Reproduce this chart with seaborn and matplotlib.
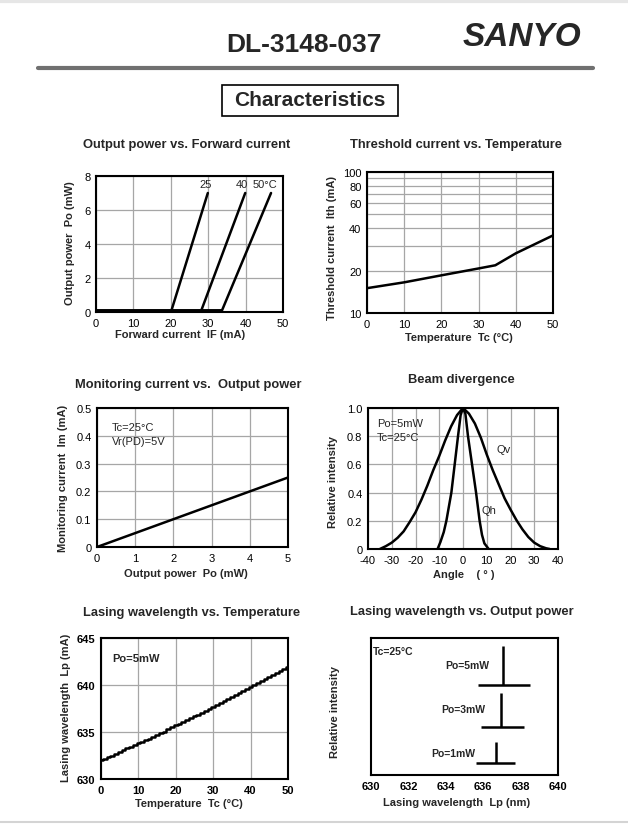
import matplotlib
matplotlib.use("Agg")
import matplotlib.pyplot as plt
import seaborn as sns
from matplotlib.patches import Rectangle
from matplotlib.lines import Line2D

# ---- data ----
# Output power vs. forward current (three case temperatures)
if_25 = [0, 20.1, 29.9]
po_25 = [0.04, 0.04, 7.0]
if_40 = [0, 28.1, 39.9]
po_40 = [0.06, 0.06, 7.0]
if_50 = [0, 33.7, 46.8]
po_50 = [0.10, 0.10, 7.0]
temp_labels = ["25", "40", "50°C"]
temp_label_if = [29.4, 38.9, 45.3]

# Threshold current vs. temperature
tc_th = [0, 10, 20, 30, 34.5, 40, 50]
ith = [15.0, 16.5, 18.5, 20.7, 21.8, 26.5, 35.5]

# Monitoring current vs. output power
po_mon = [0, 5]
im_mon = [0, 0.25]

# Beam divergence
qv_angle = [-35, -32.5, -30, -27.5, -25, -22.5, -20, -17.5, -15, -12.5, -10, -7.5,
            -5, -2.5, 0, 2.5, 5, 7.5, 10, 12.5, 15, 17.5, 20, 22.5, 25, 27.5, 30,
            32.5, 35, 36.5]
qv_int = [0.0, 0.02, 0.045, 0.08, 0.125, 0.19, 0.26, 0.35, 0.45, 0.56, 0.66, 0.77,
          0.87, 0.95, 1.0, 0.96, 0.89, 0.79, 0.67, 0.56, 0.46, 0.36, 0.28, 0.205,
          0.14, 0.085, 0.045, 0.02, 0.005, 0.0]
qh_angle = [-10.7, -9.5, -8.1, -7.0, -4.9, -3.5, -2.1, -1.0, 0, 1.0, 2.1, 3.8, 5.5,
            7.0, 8.0, 9.0, 10.8]
qh_int = [0.0, 0.05, 0.12, 0.2, 0.4, 0.6, 0.8, 0.95, 1.0, 0.96, 0.8, 0.6, 0.4,
          0.2, 0.1, 0.04, 0.0]

# Lasing wavelength vs. temperature
tc_wl = list(range(0, 51))
lp_wl = [632.0, 632.15, 632.35, 632.5, 632.7, 632.85, 633.05, 633.25, 633.4, 633.6,
         633.8, 633.95, 634.15, 634.3, 634.5, 634.7, 634.85, 635.05, 635.3, 635.5,
         635.7, 635.9, 636.1, 636.25, 636.45, 636.65, 636.85, 637.05, 637.25, 637.5,
         637.7, 637.9, 638.1, 638.3, 638.5, 638.7, 638.9, 639.1, 639.35, 639.55,
         639.75, 639.95, 640.2, 640.4, 640.6, 640.85, 641.05, 641.3, 641.5, 641.7,
         641.95]

# Lasing wavelength vs. output power (spectra)
spec_labels = ["Po=1mW", "Po=3mW", "Po=5mW"]
spec_peak = [636.68, 636.93, 637.06]
spec_left = [635.63, 635.88, 635.70]
spec_right = [637.68, 638.16, 638.50]
spec_base = [0.09, 0.35, 0.66]
spec_top = [0.24, 0.60, 0.94]
spec_label_x = [635.6, 636.1, 636.3]
spec_label_y = [0.16, 0.48, 0.80]

# ---- figure ----
sns.set_theme(style="white")
plt.rcParams["font.family"] = ["Liberation Sans", "DejaVu Sans"]
plt.rcParams["axes.unicode_minus"] = False

W, H = 628, 828
fig = plt.figure(figsize=(W / 100, H / 100), dpi=100)
fig.patch.set_facecolor("white")


def add_ax(box):
    l, t, r, b = box
    return fig.add_axes([l / W, 1 - b / H, (r - l) / W, (b - t) / H])


def style(ax, grid=True):
    for s in ax.spines.values():
        s.set_visible(True)
        s.set_linewidth(1.5)
        s.set_color("black")
    ax.tick_params(length=0, labelsize=8, pad=4, colors="black")
    ax.set_facecolor("white")
    if grid:
        ax.grid(True, color="#a6a6a6", lw=0.9)
    else:
        ax.grid(False)
    ax.set_axisbelow(True)


def labels(ax, box, title, tpos, xlabel, xpos, ylabel, ypos):
    l, t, r, b = box
    fig.text(tpos[0] / W, 1 - tpos[1] / H, title, ha="center", va="center",
             fontsize=9.3, fontweight="bold")
    ax.set_xlabel(xlabel, fontsize=8, fontweight="bold")
    ax.xaxis.set_label_coords((xpos[0] - l) / (r - l), (b - xpos[1]) / (b - t))
    ax.xaxis.label.set_va("center")
    ax.set_ylabel(ylabel, fontsize=8, fontweight="bold")
    ax.yaxis.set_label_coords((ypos[0] - l) / (r - l), (b - ypos[1]) / (b - t))
    ax.yaxis.label.set_va("center")


line_kw = dict(color="black", lw=1.8, estimator=None, sort=False, legend=False)

# header
fig.add_artist(Line2D([0, 1], [1 - 2 / H, 1 - 2 / H], color="#e6e6e6", lw=3))
fig.text(304 / W, 1 - 45 / H, "DL-3148-037", ha="center", va="center",
         fontsize=19, fontweight="bold")
fig.text(522 / W, 1 - 38 / H, "SANYO", ha="center", va="center",
         fontsize=24, fontweight="bold", fontstyle="italic")
fig.add_artist(Line2D([38 / W, 593 / W], [1 - 69 / H, 1 - 69 / H],
                      color="#707070", lw=3))
fig.add_artist(Rectangle((222 / W, 1 - 117 / H), 176 / W, 31 / H, fill=False,
                         edgecolor="black", lw=1.2, transform=fig.transFigure))
fig.text(310 / W, 1 - 101 / H, "Characteristics", ha="center", va="center",
         fontsize=15, fontweight="bold")
fig.add_artist(Line2D([0, 1], [1 - 823 / H, 1 - 823 / H], color="#d4d4d4", lw=1.5))

# 1. Output power vs. Forward current
box1 = (96, 177, 283, 313)
ax1 = add_ax(box1)
style(ax1)
for xs, ys in [(if_25, po_25), (if_40, po_40), (if_50, po_50)]:
    sns.lineplot(x=xs, y=ys, ax=ax1, **line_kw)
for txt, xv in zip(temp_labels, temp_label_if):
    ax1.text(xv, 7.5, txt, ha="center", va="center", fontsize=8)
ax1.set_xlim(0, 50)
ax1.set_ylim(0, 8)
ax1.set_xticks(range(0, 51, 10))
ax1.set_yticks(range(0, 9, 2))
labels(ax1, box1, "Output power vs. Forward current", (187, 145),
       "Forward current  IF (mA)", (180, 335), "Output power  Po (mW)", (70, 243))

# 2. Threshold current vs. Temperature
box2 = (367, 173, 553, 314)
ax2 = add_ax(box2)
style(ax2)
sns.lineplot(x=tc_th, y=ith, ax=ax2, **line_kw)
ax2.set_yscale("log")
ax2.set_xlim(0, 50)
ax2.set_ylim(10, 100)
ax2.set_yticks([10, 20, 30, 40, 50, 60, 70, 80, 90, 100],
               ["10", "20", "", "40", "", "60", "", "80", "", "100"])
ax2.minorticks_off()
ax2.set_xticks(range(0, 51, 10))
labels(ax2, box2, "Threshold current vs. Temperature", (456, 145),
       "Temperature  Tc (°C)", (459, 338), "Threshold current  Ith (mA)", (332, 248))

# 3. Monitoring current vs. Output power
box3 = (97, 409, 288, 548)
ax3 = add_ax(box3)
style(ax3)
sns.lineplot(x=po_mon, y=im_mon, ax=ax3, **line_kw)
ax3.set_xlim(0, 5)
ax3.set_ylim(0, 0.5)
ax3.set_xticks(range(0, 6))
ax3.set_yticks([0, 0.1, 0.2, 0.3, 0.4, 0.5], ["0", "0.1", "0.2", "0.3", "0.4", "0.5"])
ax3.text(0.38, 0.43, "Tc=25°C", ha="left", va="center", fontsize=8)
ax3.text(0.38, 0.383, "Vr(PD)=5V", ha="left", va="center", fontsize=8)
labels(ax3, box3, "Monitoring current vs.  Output power", (188, 385),
       "Output power  Po (mW)", (186, 574), "Monitoring current  Im (mA)", (63, 478))

# 4. Beam divergence
box4 = (368, 409, 558, 550)
ax4 = add_ax(box4)
style(ax4)
sns.lineplot(x=qv_angle, y=qv_int, ax=ax4, **line_kw)
sns.lineplot(x=qh_angle, y=qh_int, ax=ax4, **line_kw)
ax4.set_xlim(-40, 40)
ax4.set_ylim(0, 1.0)
ax4.set_xticks(range(-40, 41, 10), [str(v) for v in range(-40, 41, 10)])
ax4.set_yticks([0, 0.2, 0.4, 0.6, 0.8, 1.0], ["0", "0.2", "0.4", "0.6", "0.8", "1.0"])
ax4.text(-36.2, 0.894, "Po=5mW", ha="left", va="center", fontsize=8)
ax4.text(-36.2, 0.794, "Tc=25°C", ha="left", va="center", fontsize=8)
ax4.text(14.3, 0.71, "Qv", ha="left", va="center", fontsize=8)
ax4.text(7.6, 0.28, "Qh", ha="left", va="center", fontsize=8)
labels(ax4, box4, "Beam divergence", (461, 380),
       "Angle    ( ° )", (464, 575), "Relative intensity", (333, 482))

# 5. Lasing wavelength vs. Temperature
box5 = (101, 639, 288, 780)
ax5 = add_ax(box5)
style(ax5)
sns.lineplot(x=tc_wl, y=lp_wl, ax=ax5, drawstyle="steps-mid", **line_kw)
ax5.set_xlim(0, 50)
ax5.set_ylim(630, 645)
ax5.set_xticks(range(0, 51, 10), [str(v) for v in range(0, 51, 10)], fontweight="bold")
ax5.set_yticks([630, 635, 640, 645], ["630", "635", "640", "645"], fontweight="bold")
ax5.text(2.9, 642.9, "Po=5mW", ha="left", va="center", fontsize=8, fontweight="bold")
labels(ax5, box5, "Lasing wavelength vs. Temperature", (192, 613),
       "Temperature  Tc (°C)", (189, 804), "Lasing wavelength  Lp (mA)", (66, 708))

# 6. Lasing wavelength vs. Output power
box6 = (371, 639, 558, 776)
ax6 = add_ax(box6)
style(ax6, grid=False)
ax6.vlines(spec_peak, spec_base, spec_top, color="black", lw=1.8)
ax6.hlines(spec_base, spec_left, spec_right, color="black", lw=1.8)
for txt, xv, yv in zip(spec_labels, spec_label_x, spec_label_y):
    ax6.text(xv, yv, txt, ha="right", va="center", fontsize=7.5, fontweight="bold")
ax6.text(630.1, 0.905, "Tc=25°C", ha="left", va="center", fontsize=7.5, fontweight="bold")
ax6.set_xlim(630, 640)
ax6.set_ylim(0, 1)
ax6.set_xticks(range(630, 641, 2), [str(v) for v in range(630, 641, 2)], fontweight="bold")
ax6.set_yticks([])
labels(ax6, box6, "Lasing wavelength vs. Output power", (462, 612),
       "Lasing wavelength  Lp (nm)", (457, 803), "Relative intensity", (335, 712))

fig.savefig("out.png", dpi=100)
